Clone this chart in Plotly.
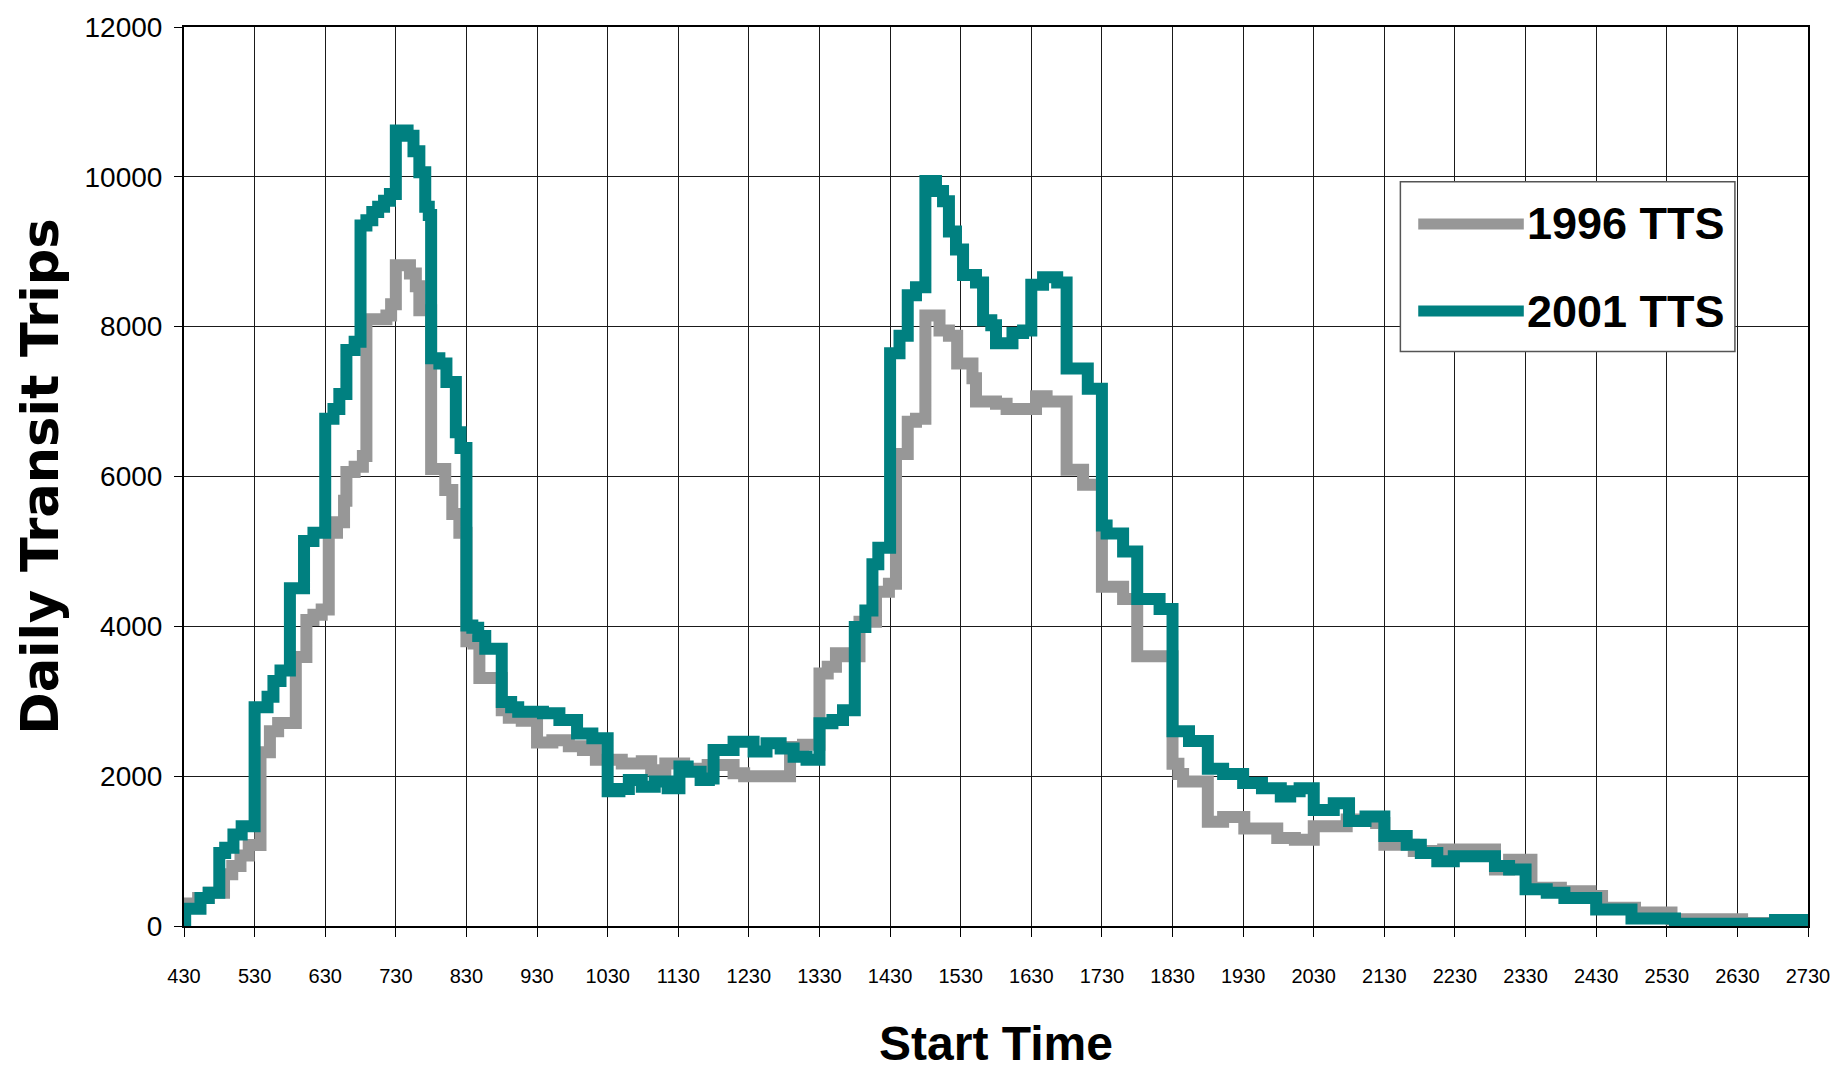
import plotly.graph_objects as go

# Start times (clock HHMM, past-midnight hours continue as 24xx..27xx) and daily transit trips
# at each step change of the two survey curves.
t_1996 = [430, 442, 451, 504, 511, 518, 525, 535, 543, 550, 605, 614, 620, 627, 633, 640, 646, 648,
          655, 702, 705, 722, 726, 730, 742, 747, 750, 800, 812, 818, 824, 830, 836, 841, 900, 906,
          917, 930, 943, 957, 1009, 1020, 1042, 1059, 1107, 1119, 1135, 1155, 1217, 1226, 1305,
          1316, 1330, 1337, 1344, 1353, 1404, 1418, 1429, 1435, 1445, 1452, 1500, 1512, 1520, 1527,
          1540, 1543, 1600, 1609, 1634, 1643, 1700, 1714, 1730, 1748, 1800, 1830, 1835, 1839, 1900,
          1913, 1931, 1959, 2014, 2030, 2058, 2123, 2130, 2155, 2220, 2304, 2316, 2335, 2400, 2425,
          2435, 2503, 2534, 2634, 2730]
trips_1996 = [300, 375, 445, 690, 800, 940, 1080, 2320, 2600, 2710, 3590, 4085, 4155, 4225, 5250,
              5390, 5675, 6060, 6130, 6275, 8100, 8150, 8300, 8820, 8710, 8540, 8220, 6100, 5820,
              5500, 5250, 3800, 3770, 3310, 2880, 2780, 2740, 2450, 2480, 2400, 2350, 2220, 2170,
              2200, 2080, 2170, 2100, 2150, 2040, 2000, 2390, 2420, 3370, 3460, 3640, 3600, 4060,
              4460, 4570, 6300, 6730, 6770, 8150, 7950, 7880, 7510, 7310, 7000, 6970, 6900, 7070,
              7000, 6090, 5890, 4530, 4365, 3600, 2165, 2030, 1930, 1390, 1455, 1300, 1175, 1150,
              1330, 1420, 1375, 1085, 1000, 1020, 755, 885, 510, 465, 400, 245, 180, 90, 40, 40]

t_2001 = [430, 431, 444, 451, 500, 505, 512, 519, 530, 541, 546, 552, 600, 612, 620, 630, 637, 642,
          648, 655, 700, 705, 710, 715, 720, 725, 730, 740, 745, 750, 755, 758, 800, 807, 813, 821,
          825, 830, 835, 840, 846, 900, 908, 914, 935, 949, 1004, 1017, 1030, 1040, 1048, 1059,
          1110, 1121, 1131, 1138, 1149, 1156, 1200, 1217, 1234, 1245, 1257, 1308, 1319, 1330, 1341,
          1350, 1400, 1409, 1415, 1420, 1430, 1438, 1445, 1452, 1500, 1509, 1515, 1520, 1526, 1532,
          1543, 1549, 1556, 1600, 1614, 1623, 1630, 1640, 1652, 1700, 1718, 1730, 1734, 1748, 1800,
          1819, 1830, 1844, 1900, 1913, 1930, 1946, 2002, 2010, 2018, 2030, 2047, 2100, 2114, 2130,
          2149, 2201, 2215, 2229, 2304, 2316, 2330, 2348, 2403, 2430, 2500, 2537, 2702, 2730]
trips_2001 = [30, 230, 375, 445, 975, 1045, 1220, 1330, 2920, 3060, 3270, 3410, 4510, 5140, 5250,
              6770, 6900, 7100, 7690, 7800, 9350, 9420, 9530, 9600, 9680, 9770, 10620, 10550, 10340,
              10060, 9600, 9490, 7580, 7510, 7260, 6590, 6380, 4010, 3980, 3870, 3700, 2990, 2920,
              2860, 2840, 2750, 2570, 2505, 1800, 1830, 1950, 1860, 1930, 1840, 2130, 2060, 1950,
              1970, 2350, 2460, 2330, 2440, 2370, 2260, 2220, 2705, 2750, 2880, 3990, 4210, 4830,
              5050, 7645, 7880, 8420, 8525, 9945, 9810, 9675, 9270, 9030, 8690, 8590, 8085, 8020,
              7780, 7915, 7950, 8560, 8660, 8590, 7440, 7170, 5345, 5240, 5000, 4365, 4230, 2600,
              2470, 2100, 2030, 1910, 1840, 1730, 1800, 1840, 1550, 1640, 1400, 1460, 1200, 1085,
              975, 865, 930, 800, 755, 490, 445, 375, 220, 100, 30, 80, 80]

tick_labels = ["430", "530", "630", "730", "830", "930", "1030", "1130", "1230", "1330", "1430",
               "1530", "1630", "1730", "1830", "1930", "2030", "2130", "2230", "2330", "2430",
               "2530", "2630", "2730"]

series_names = ["1996 TTS", "2001 TTS"]
series_colors = ["#979797", "#008080"]


def to_minutes(hhmm):
    """Clock value HHMM -> minutes after midnight."""
    return (hhmm // 100) * 60 + hhmm % 100


tick_minutes = [to_minutes(int(s)) for s in tick_labels]

SANS = "Liberation Sans, Arial, sans-serif"

fig = go.Figure()
for name, color, times, vals in [
    (series_names[0], series_colors[0], t_1996, trips_1996),
    (series_names[1], series_colors[1], t_2001, trips_2001),
]:
    fig.add_trace(go.Scatter(
        x=[to_minutes(t) for t in times], y=vals, name=name,
        mode="lines", line=dict(color=color, width=12, shape="hv"),
        showlegend=False,
    ))

fig.update_layout(
    width=1842, height=1076,
    margin=dict(l=184, r=25, t=26, b=150),
    paper_bgcolor="white", plot_bgcolor="white",
    xaxis=dict(
        range=[tick_minutes[0], tick_minutes[-1]],
        tickmode="array", tickvals=tick_minutes, ticktext=tick_labels,
        ticks="outside", ticklen=9, tickcolor="black", tickwidth=1,
        tickfont=dict(family=SANS, size=20, color="black"),
        ticklabelstandoff=22,
        showgrid=True, gridcolor="#1a1a1a", gridwidth=1,
        showline=True, linecolor="black", linewidth=2, mirror=True,
        zeroline=False,
        title=dict(text="<b>Start Time</b>", font=dict(family=SANS, size=48, color="black"),
                   standoff=40),
    ),
    yaxis=dict(
        range=[0, 12000], tickmode="array", tickvals=list(range(0, 12001, 2000)),
        tickformat="d",
        ticks="outside", ticklen=8, tickcolor="black", tickwidth=1,
        tickfont=dict(family=SANS, size=28, color="black"),
        ticklabelstandoff=6,
        showgrid=True, gridcolor="#1a1a1a", gridwidth=1,
        showline=True, linecolor="black", linewidth=2, mirror=True,
        zeroline=False,
        title=dict(text="<b>Daily Transit Trips</b>",
                   font=dict(family="DejaVu Sans, sans-serif", size=51, color="black"),
                   standoff=10),
    ),
)

# Legend box drawn with shapes so the long line samples and large labels fit
fig.add_shape(type="rect", xref="paper", yref="paper", x0=0.749, x1=0.955, y0=0.639, y1=0.828,
              fillcolor="white", line=dict(color="#555555", width=1.5), layer="above")
legend_rows = [0.781, 0.684]
for name, color, yrow in zip(series_names, series_colors, legend_rows):
    fig.add_shape(type="line", xref="paper", yref="paper", x0=0.760, x1=0.825, y0=yrow, y1=yrow,
                  line=dict(color=color, width=11), layer="above")
    fig.add_annotation(xref="paper", yref="paper", x=0.826, y=yrow, text=f"<b>{name}</b>",
                       showarrow=False, xanchor="left", yanchor="middle",
                       font=dict(family=SANS, size=45, color="black"))

fig.write_html("out.html")
